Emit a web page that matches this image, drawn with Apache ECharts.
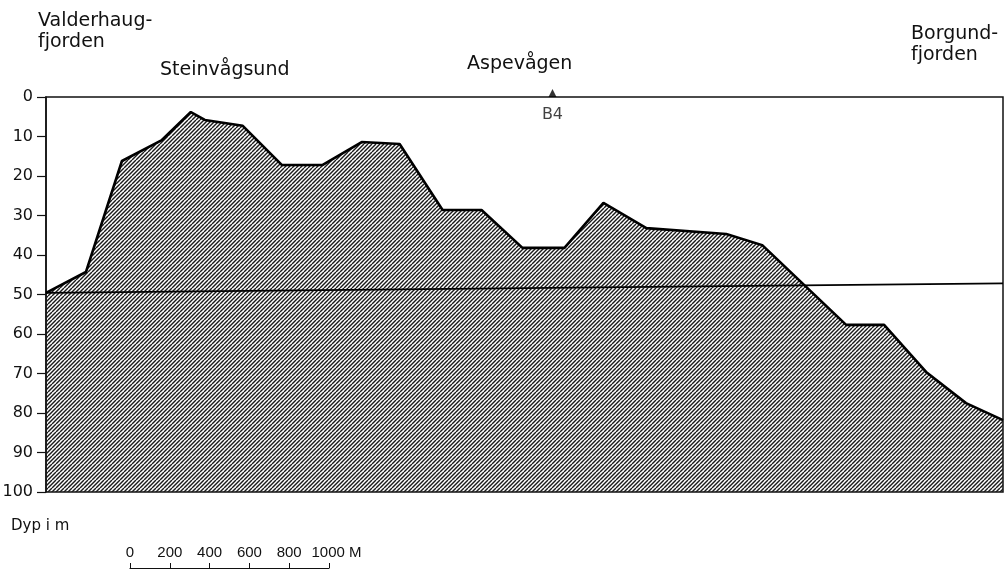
<!DOCTYPE html>
<html>
<head>
<meta charset="utf-8">
<script src="https://cdn.jsdelivr.net/npm/echarts@6/dist/echarts.min.js"></script>
<style>
html,body{margin:0;padding:0;background:#fff;}
#main{width:1004px;height:572px;}
</style>
</head>
<body>
<div id="main"></div>
<script>
// avstand (m) og dyp (m) langs profilet
var distance = [0,200,380,580,725,795,985,1180,1385,1580,1770,1985,2180,2385,2595,2790,3005,3405,3585,4005,4195,4405,4605,4790];
var depth = [49.6,44.3,16.2,10.9,3.8,5.8,7.3,17.2,17.2,11.4,11.9,28.6,28.6,38.2,38.2,26.8,33.2,34.7,37.5,57.7,57.7,69.6,77.5,81.8];
var levelLine = [[0,49.6],[4790,47.2]];
var station = [[2535,0]];
var depthTicks = [0,10,20,30,40,50,60,70,80,90,100];
var scaleTicks = [0,200,400,600,800,1000];

var FONT = 'DejaVu Sans';

// skravering
function hatch(){
	var c = document.createElement('canvas');
	c.width = 8; c.height = 8;
	var g = c.getContext('2d');
	g.strokeStyle = '#1a1a1a';
	g.lineWidth = 1.4;
	for(var k=-8;k<=16;k+=4){
		g.beginPath();
		g.moveTo(k,8);
		g.lineTo(k+8,0);
		g.stroke();
	}
	return c;
}

var profile = [];
for(var i=0;i<distance.length;i++){
	profile.push([distance[i],depth[i]]);
}

var chart = echarts.init(document.getElementById('main'));
var option = {
	animation:false,
	backgroundColor:'#fff',
	grid:[
		{left:46,right:1,top:97,height:395,outerBoundsMode:'none',show:true,borderColor:'#111',borderWidth:1.5},
		{left:130,width:199,top:568,height:0,outerBoundsMode:'none'}
	],
	xAxis:[
		{type:'value',gridIndex:0,min:0,max:4790,show:false},
		{type:'value',gridIndex:1,min:0,max:1000,interval:200,position:'top',
			axisLine:{lineStyle:{color:'#111',width:1.2}},
			axisTick:{length:5,lineStyle:{color:'#111'}},
			splitLine:{show:false},
			axisLabel:{color:'#111',fontFamily:'Liberation Sans',fontSize:15,margin:8,
				formatter:function(v){return v==1000?'{pad|}1000 M':String(v);},
				rich:{pad:{width:15}}}
		}
	],
	yAxis:[
		{type:'value',gridIndex:0,inverse:true,min:0,max:100,interval:10,
			axisLine:{show:true,lineStyle:{color:'#111',width:1.5}},
			axisTick:{show:true,length:9,lineStyle:{color:'#111',width:1.2}},
			splitLine:{show:false},
			axisLabel:{color:'#111',fontFamily:FONT,fontSize:16,margin:13,
				formatter:function(v){return depthTicks.indexOf(v)>=0?String(v):'';}}
		},
		{type:'value',gridIndex:1,show:false,min:0,max:1}
	],
	series:[
		{type:'line',xAxisIndex:0,yAxisIndex:0,data:profile,symbol:'none',
			lineStyle:{color:'#000',width:2.6},
			areaStyle:{origin:'end',opacity:1,color:{image:hatch(),repeat:'repeat'}},
			z:2},
		{type:'line',xAxisIndex:0,yAxisIndex:0,data:levelLine,symbol:'none',
			lineStyle:{color:'#000',width:1.8},z:3},
		{type:'scatter',xAxisIndex:0,yAxisIndex:0,data:station,symbol:'triangle',
			symbolSize:[8,8],symbolOffset:[0,-4],itemStyle:{color:'#000'},
			label:{show:true,position:'bottom',distance:10,formatter:'B4',
				color:'#111',fontFamily:FONT,fontSize:16},z:4}
	],
	graphic:[
		{type:'text',left:38,top:11,style:{text:'Valderhaug-\nfjorden',font:'19px '+FONT,fill:'#111',lineHeight:21}},
		{type:'text',left:160,top:61,style:{text:'Steinvågsund',font:'19px '+FONT,fill:'#111'}},
		{type:'text',left:467,top:55,style:{text:'Aspevågen',font:'19px '+FONT,fill:'#111'}},
		{type:'text',left:911,top:24,style:{text:'Borgund-\nfjorden',font:'19px '+FONT,fill:'#111',lineHeight:21}},
		{type:'text',left:11,top:519,style:{text:'Dyp i m',font:'15px '+FONT,fill:'#111'}}
	]
};
chart.setOption(option);
</script>
</body>
</html>
